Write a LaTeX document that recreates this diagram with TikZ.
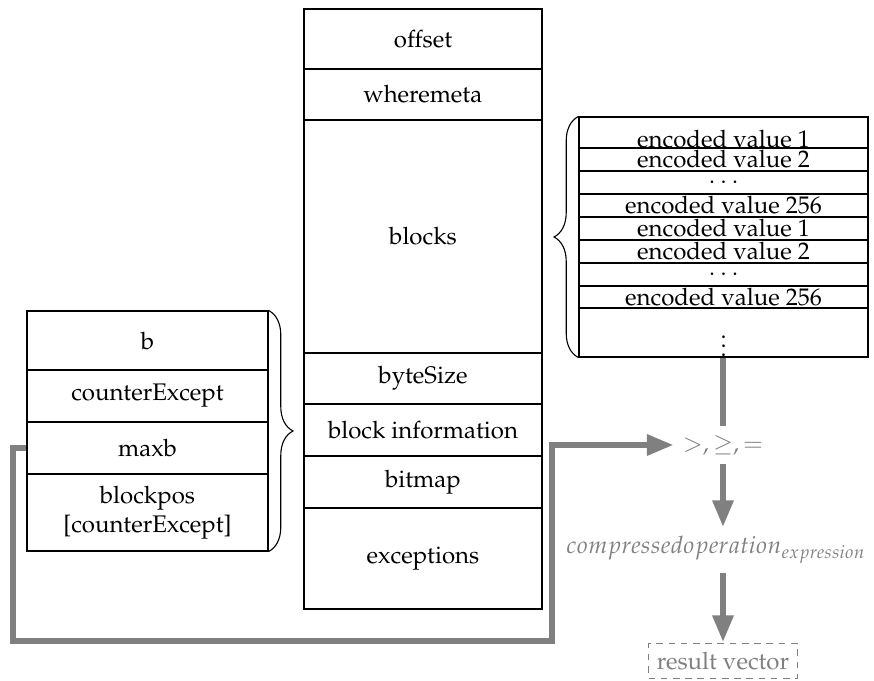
\documentclass[tikz,border=0pt]{standalone}
\usepackage[T1]{fontenc}
\usepackage{mathpazo}
\usetikzlibrary{fit,arrows.meta,decorations.pathreplacing}
\definecolor{flowgray}{RGB}{128,128,128}
\begin{document}
\begin{tikzpicture}[x=0.45pt,y=-0.45pt,
  every node/.style={font=\fontsize{10.8}{13}\selectfont},
  cell/.style={draw, line width=0.5pt, inner sep=0pt, fit={#1}},
  flow/.style={draw=flowgray, line width=2.7pt},
  flowarrow/.style={flow, -{Triangle[length=12pt,width=9pt]}},
  op/.style={text=flowgray, inner sep=4pt},
  curly/.style={decorate, decoration={brace, amplitude=11pt}, line width=0.5pt}]
\useasboundingbox (0,0) rectangle (874,681);

% column in the middle: layout of a compressed segment
\node[cell={(304,9)(542,69)},    label=center:offset]            (offset) {};
\node[cell={(304,69)(542,120)},  label=center:wheremeta]         (wheremeta) {};
\node[cell={(304,120)(542,353)}, label=center:blocks]            (blocks) {};
\node[cell={(304,353)(542,404)}, label=center:byteSize]          (bytesize) {};
\node[cell={(304,404)(542,456)}, label=center:block information] (blockinfo) {};
\node[cell={(304,456)(542,508)}, label=center:bitmap]            (bitmap) {};
\node[cell={(304,508)(542,609)}, label=center:exceptions]        (exceptions) {};

% block information fields
\node[cell={(27,311)(268,370)}, label=center:b]             (fb) {};
\node[cell={(27,370)(268,422)}, label=center:counterExcept] (fce) {};
\node[cell={(27,422)(268,474)}, label=center:maxb]          (maxb) {};
\node[cell={(27,474)(268,551)},
      label={[align=center]center:{blockpos\\{[}counterExcept{]}}}] (fpos) {};
\draw[curly] (fb.north east) -- (fpos.south east);

% contents of the blocks
\node[cell={(579,117)(868,148)}, label={[yshift=-3pt]center:encoded value 1}] (e1) {};
\node[cell={(579,148)(868,171)}, label=center:encoded value 2]   (e2) {};
\node[cell={(579,171)(868,194)}, label=center:$\cdots$]          (e3) {};
\node[cell={(579,194)(868,217)}, label=center:encoded value 256] (e4) {};
\node[cell={(579,217)(868,240)}, label=center:encoded value 1]   (e5) {};
\node[cell={(579,240)(868,263)}, label=center:encoded value 2]   (e6) {};
\node[cell={(579,263)(868,286)}, label=center:$\cdots$]          (e7) {};
\node[cell={(579,286)(868,308)}, label=center:encoded value 256] (e8) {};
\node[cell={(579,308)(868,357)}, label={[yshift=-3pt]center:$\vdots$}] (e9) {};
\draw[curly] (e9.south west) -- (e1.north west);

% evaluation of the predicate
\node[op] (cmp) at (723,445) {$>, \geq, =$};
\node[op] (expr) at (716,550) {$compressedoperation_{expression}$};
\node[draw=flowgray, dashed, line width=0.5pt, dash pattern=on 3pt off 2.5pt,
      text=flowgray, minimum width=67pt, minimum height=15.5pt, inner sep=1pt]
      (result) at (723,661) {result vector};

\coordinate (loopl) at (13,641);
\coordinate (loopr) at (552,641);
\draw[flow] (e9.south -| cmp) -- (cmp.north);
\draw[flowarrow] (maxb.west) -| (loopl) -- (loopr) |- (cmp.west);
\draw[flowarrow] (cmp.south) -- (cmp.south |- expr.north);
\draw[flowarrow] (cmp.south |- expr.south) -- ([yshift=0.5pt]result.north);
\end{tikzpicture}
\end{document}
